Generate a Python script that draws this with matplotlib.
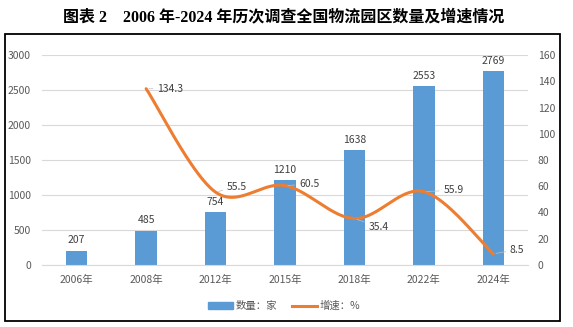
import matplotlib.pyplot as plt
import numpy as np
from matplotlib.patches import Rectangle
from matplotlib.lines import Line2D
from matplotlib.patches import Patch

plt.rcParams['font.family'] = ['Noto Sans CJK SC', 'DejaVu Sans']

years = ['2006年', '2008年', '2012年', '2015年', '2018年', '2022年', '2024年']
counts = [207, 485, 754, 1210, 1638, 2553, 2769]
growth = [None, 134.3, 55.5, 60.5, 35.4, 55.9, 8.5]

# label offsets for growth labels, in points (dx, dy)
g_offsets = [None, (8, 0), (8, 4), (10, 1), (10, -6), (14, 1), (12, 3)]

bar_color = '#5B9BD5'
line_color = '#ED7D31'
text_color = '#595959'

W, H = 573, 327
fig = plt.figure(figsize=(W / 100, H / 100), dpi=100)

ax = fig.add_axes([42 / W, 1 - 265 / H, 486 / W, 210 / H])
ax2 = ax.twinx()

x = np.arange(len(years))
ax.bar(x, counts, width=0.31, color=bar_color, zorder=2)
for xi, v in zip(x, counts):
    ax.annotate(str(v), (xi, v), xytext=(0, 4), textcoords='offset points',
                ha='center', va='bottom', fontsize=7.5, color='#404040')

ax.set_ylim(0, 3000)
ax.set_yticks(np.arange(0, 3001, 500))
ax.set_xlim(-0.5, len(years) - 0.5)
ax.set_xticks(x)
ax.set_xticklabels(years)
ax.grid(axis='y', color='#D9D9D9', linewidth=0.8, zorder=0)
ax.set_axisbelow(True)
for s in ax.spines.values():
    s.set_visible(False)
ax.spines['bottom'].set_visible(True)
ax.spines['bottom'].set_color('#D9D9D9')
ax.tick_params(axis='both', length=0, labelsize=7.5, labelcolor=text_color)
ax.tick_params(axis='y', pad=8)
ax.tick_params(axis='x', pad=7)

# smoothed growth line (Catmull-Rom style bezier, in pixel-like space)
gx = np.array([xi for xi, g in zip(x, growth) if g is not None], dtype=float)
gy = np.array([g for g in growth if g is not None], dtype=float)
sx, sy = 486 / 7, 210 / 160
P = np.column_stack([gx * sx, gy * sy])
curve = []
n = len(P)
for i in range(n - 1):
    p0 = P[i - 1] if i > 0 else P[i]
    p1, p2 = P[i], P[i + 1]
    p3 = P[i + 2] if i + 2 < n else P[i + 1]
    c1 = p1 + (p2 - p0) / 6
    c2 = p2 - (p3 - p1) / 6
    t = np.linspace(0, 1, 40)[:, None]
    seg = (1 - t) ** 3 * p1 + 3 * (1 - t) ** 2 * t * c1 + 3 * (1 - t) * t ** 2 * c2 + t ** 3 * p2
    curve.append(seg)
curve = np.vstack(curve)
ax2.plot(curve[:, 0] / sx, curve[:, 1] / sy, color=line_color, linewidth=2.2,
         solid_capstyle='round', zorder=3)

for xi, g, off in zip(x, growth, g_offsets):
    if g is None:
        continue
    ax2.annotate(f'{g}', (xi, g), xytext=off, textcoords='offset points',
                 ha='left', va='center', fontsize=7.5, color='#404040',
                 arrowprops=dict(arrowstyle='-', color='#BFBFBF', lw=0.5,
                                 shrinkA=1, shrinkB=2))

ax2.set_ylim(0, 160)
ax2.set_yticks(np.arange(0, 161, 20))
for s in ax2.spines.values():
    s.set_visible(False)
ax2.tick_params(axis='y', length=0, labelsize=7.5, labelcolor=text_color, pad=7)

handles = [Patch(color=bar_color), Line2D([0], [0], color=line_color, lw=2.2)]
fig.legend(handles, ['数量：家', '增速：%'], loc='center', bbox_to_anchor=(284 / W, 1 - 306 / H),
           ncol=2, frameon=False, fontsize=7.5, labelcolor=text_color,
           handlelength=2.4, handleheight=0.6, columnspacing=1.4, handletextpad=0.3)

fig.patches.append(Rectangle((5 / W, 1 - 321 / H), 555 / W, 287 / H, transform=fig.transFigure,
                             fill=False, edgecolor='black', linewidth=1.3))

fig.text(284 / W, 1 - 17 / H, '图表 2　2006 年-2024 年历次调查全国物流园区数量及增速情况',
         ha='center', va='center', fontsize=11.5, fontweight='bold',
         family=['Liberation Serif', 'Noto Sans CJK SC'])

fig.savefig('out.png', dpi=100)
